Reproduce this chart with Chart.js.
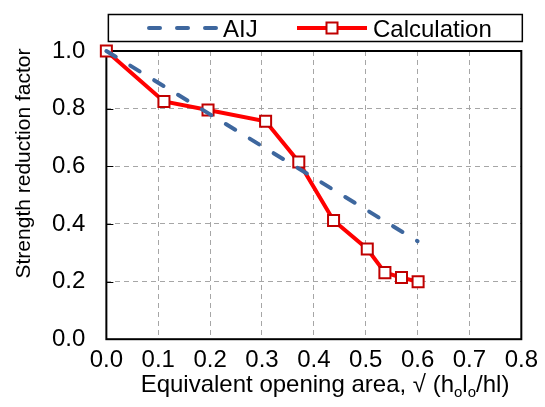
<!DOCTYPE html>
<html>
<head>
<meta charset="utf-8">
<script src="https://cdn.jsdelivr.net/npm/chart.js@4/dist/chart.umd.min.js"></script>
<style>
  body { margin: 0; background: #fff; }
  #wrap { width: 545px; height: 407px; }
</style>
</head>
<body>
<div id="wrap"><canvas id="myChart"></canvas></div>
<script>
// values
const aijX = [0.0, 0.6];
const aijY = [1.0, 0.34];
const calcX = [0.0, 0.111, 0.196, 0.307, 0.371, 0.438, 0.503, 0.537, 0.569, 0.601];
const calcY = [1.0, 0.825, 0.795, 0.756, 0.615, 0.412, 0.313, 0.231, 0.214, 0.199];
const xTickLabels = ["0.0", "0.1", "0.2", "0.3", "0.4", "0.5", "0.6", "0.7", "0.8"];
const yTickLabels = ["0.0", "0.2", "0.4", "0.6", "0.8", "1.0"];
const seriesNames = ["AIJ", "Calculation"];

const FONT = "'Liberation Sans', Arial, sans-serif";
const BLUE = "#3E679E";
const RED = "#FF0000";
const DARKRED = "#C00000";

const toPoints = (xs, ys) => xs.map((x, i) => ({ x: x, y: ys[i] }));

// frame, inner ticks, legend and axis titles
const decorPlugin = {
  id: "decor",
  beforeDatasetsDraw(chart) {
    const ctx = chart.ctx;
    const a = chart.chartArea;
    const ys = chart.scales.y;
    ctx.save();
    ctx.strokeStyle = "#000";
    ctx.lineWidth = 1;
    // small inward ticks on the y axis
    yTickLabels.forEach((t) => {
      const py = Math.round(ys.getPixelForValue(Number(t))) + 0.5;
      ctx.beginPath();
      ctx.moveTo(a.left, py);
      ctx.lineTo(a.left + 7, py);
      ctx.stroke();
    });
    ctx.lineWidth = 2;
    ctx.strokeRect(a.left, a.top, a.right - a.left, a.bottom - a.top);
    ctx.restore();
  },
  afterDraw(chart) {
    const ctx = chart.ctx;
    const a = chart.chartArea;
    ctx.save();

    // legend box
    ctx.strokeStyle = "#000";
    ctx.lineWidth = 1.5;
    ctx.strokeRect(a.left + 2, 14.5, a.right - a.left - 1, 27);
    const ly = 28;
    ctx.lineCap = "round";
    ctx.strokeStyle = BLUE;
    ctx.lineWidth = 4;
    ctx.setLineDash([11, 17]);
    ctx.beginPath();
    ctx.moveTo(149, ly);
    ctx.lineTo(216, ly);
    ctx.stroke();
    ctx.setLineDash([]);
    ctx.lineCap = "butt";
    ctx.strokeStyle = RED;
    ctx.beginPath();
    ctx.moveTo(297, ly);
    ctx.lineTo(367, ly);
    ctx.stroke();
    ctx.fillStyle = "#fff";
    ctx.fillRect(326.5, ly - 5.5, 11, 11);
    ctx.strokeStyle = DARKRED;
    ctx.lineWidth = 2;
    ctx.strokeRect(326.5, ly - 5.5, 11, 11);

    ctx.fillStyle = "#000";
    ctx.font = "24px " + FONT;
    ctx.textBaseline = "alphabetic";
    ctx.textAlign = "left";
    ctx.fillText(seriesNames[0], 223, 36.5);
    ctx.fillText(seriesNames[1], 373, 36.5);

    // x axis title with subscripts
    const big = "24px " + FONT;
    const small = "15px " + FONT;
    const parts = [
      ["Equivalent opening area, \u221A (h", big, 0],
      ["o", small, 5],
      ["l", big, 0],
      ["o", small, 5],
      ["/hl)", big, 0],
    ];
    let total = 0;
    parts.forEach((p) => { ctx.font = p[1]; total += ctx.measureText(p[0]).width; });
    let x = 325 - total / 2;
    const base = 392;
    parts.forEach((p) => {
      ctx.font = p[1];
      ctx.fillText(p[0], x, base + p[2]);
      x += ctx.measureText(p[0]).width;
    });

    // y axis title
    ctx.translate(30, 163.5);
    ctx.rotate(-Math.PI / 2);
    ctx.font = "21px " + FONT;
    ctx.textAlign = "center";
    ctx.fillText("Strength reduction factor", 0, 0);
    ctx.restore();
  },
};

const ctx = document.getElementById("myChart").getContext("2d");
new Chart(ctx, {
  type: "scatter",
  data: {
    datasets: [
      {
        label: seriesNames[0],
        data: toPoints(aijX, aijY),
        showLine: true,
        borderColor: BLUE,
        borderWidth: 4,
        borderDash: [11, 17],
        borderCapStyle: "round",
        pointRadius: 0,
        clip: false,
      },
      {
        label: seriesNames[1],
        data: toPoints(calcX, calcY),
        showLine: true,
        borderColor: RED,
        borderWidth: 4,
        pointStyle: "rect",
        pointRadius: 7.8,
        pointBorderWidth: 2,
        pointBorderColor: DARKRED,
        pointBackgroundColor: "#fff",
        clip: false,
      },
    ],
  },
  options: {
    responsive: true,
    maintainAspectRatio: false,
    animation: false,
    layout: { padding: { top: 51, right: 18, bottom: 25, left: 31 } },
    plugins: {
      legend: { display: false },
      tooltip: { enabled: false },
    },
    scales: {
      x: {
        type: "linear",
        min: 0,
        max: 0.8,
        grid: { color: "#A6A6A6", drawTicks: false },
        border: { display: false, dash: [5, 4] },
        ticks: {
          stepSize: 0.1,
          padding: 7,
          color: "#000",
          font: { family: FONT, size: 24 },
          callback: (v) => xTickLabels[Math.round(v * 10)],
        },
      },
      y: {
        type: "linear",
        min: 0,
        max: 1,
        grid: { color: "#A6A6A6", drawTicks: false },
        border: { display: false, dash: [5, 4] },
        ticks: {
          stepSize: 0.2,
          padding: 21,
          color: "#000",
          font: { family: FONT, size: 24 },
          callback: (v) => yTickLabels[Math.round(v * 5)],
        },
      },
    },
  },
  plugins: [decorPlugin],
});
</script>
</body>
</html>
